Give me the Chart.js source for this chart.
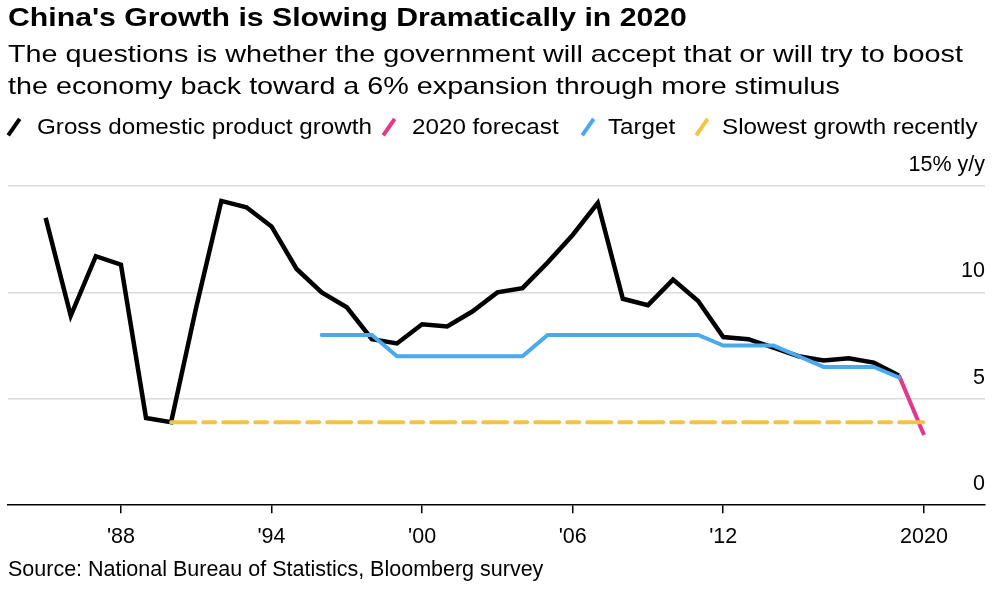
<!DOCTYPE html>
<html>
<head>
<meta charset="utf-8">
<script src="https://cdn.jsdelivr.net/npm/chart.js@4.4.1/dist/chart.umd.min.js"></script>
<style>
  body { margin: 0; background: #fff; font-family: "Liberation Sans", Arial, sans-serif; color: #000; }
  #wrap { position: relative; width: 1008px; height: 590px; overflow: hidden; }
  #chart { position: absolute; left: 0; top: 0; }
  .txt { position: absolute; left: 8px; white-space: nowrap; transform-origin: 0 0; }
  #title { top: 3px; font-size: 25.5px; font-weight: bold; transform: scaleX(1.185); }
  #subtitle { top: 38px; font-size: 24px; line-height: 32px; transform: scaleX(1.197); }
  .leg { position: absolute; top: 114px; font-size: 22px; white-space: nowrap; transform-origin: 0 0; transform: scaleX(1.1); }
  .slash { position: absolute; top: 117px; width: 3.5px; height: 20px; transform: rotate(35deg); }
  #source { top: 557px; font-size: 21.5px; }
</style>
</head>
<body>
<div id="wrap">
  <canvas id="chart" width="1008" height="590"></canvas>
  <div class="txt" id="title">China's Growth is Slowing Dramatically in 2020</div>
  <div class="txt" id="subtitle">The questions is whether the government will accept that or will try to boost<br>the economy back toward a 6% expansion through more stimulus</div>
  <div id="legend"></div>
  <div class="txt" id="source">Source: National Bureau of Statistics, Bloomberg survey</div>
</div>
<script>
// data
const years = [1985, 1986, 1987, 1988, 1989, 1990, 1991, 1992, 1993, 1994, 1995, 1996,
  1997, 1998, 1999, 2000, 2001, 2002, 2003, 2004, 2005, 2006, 2007, 2008, 2009, 2010,
  2011, 2012, 2013, 2014, 2015, 2016, 2017, 2018, 2019];
const gdp = [13.5, 8.9, 11.7, 11.3, 4.1, 3.9, 9.3, 14.3, 14.0, 13.1, 11.1, 10.0,
  9.3, 7.8, 7.6, 8.5, 8.4, 9.1, 10.0, 10.2, 11.4, 12.7, 14.2, 9.7, 9.4, 10.6,
  9.6, 7.9, 7.8, 7.4, 7.0, 6.8, 6.9, 6.7, 6.1];
const forecastYears = [2019, 2020];
const forecast = [6.1, 3.3];
const targetYears = [1996, 1997, 1998, 1999, 2000, 2001, 2002, 2003, 2004, 2005, 2006, 2007,
  2008, 2009, 2010, 2011, 2012, 2013, 2014, 2015, 2016, 2017, 2018, 2019];
const target = [8, 8, 8, 7, 7, 7, 7, 7, 7, 8, 8, 8, 8, 8, 8, 8, 7.5, 7.5, 7.5, 7, 6.5, 6.5, 6.5, 6];
const slowestYears = [1990, 2020];
const slowest = [3.9, 3.9];
const xTicks = [1988, 1994, 2000, 2006, 2012, 2020];
const xTickLabels = ["'88", "'94", "'00", "'06", "'12", "2020"];
const yTicks = [0, 5, 10, 15];

const seriesNames = ["Gross domestic product growth", "2020 forecast", "Target", "Slowest growth recently"];
const colors = ["#000000", "#e2388c", "#4aa9ef", "#f5c344"];

function pts(xs, ys) {
  return xs.map((x, i) => ({ x: x, y: ys[i] }));
}

// legend, laid out like the original
const legTextLeft = [37, 412, 608, 722];
const legSlashLeft = [12, 387, 586, 700];
let legHtml = "";
seriesNames.forEach((n, i) => {
  legHtml += '<div class="slash" style="left:' + legSlashLeft[i] + 'px;background:' + colors[i] + '"></div>';
  legHtml += '<div class="leg" style="left:' + legTextLeft[i] + 'px">' + n + '</div>';
});
document.getElementById("legend").innerHTML = legHtml;

const font = { family: "'Liberation Sans', Arial, sans-serif", size: 21.5 };

const ctx = document.getElementById("chart");
const myChart = new Chart(ctx, {
  type: "line",
  data: {
    datasets: [
      { label: seriesNames[3], data: pts(slowestYears, slowest), borderColor: colors[3],
        borderWidth: 4, borderDash: [24, 8, 12, 8], borderCapStyle: "round" },
      { label: seriesNames[2], data: pts(targetYears, target), borderColor: colors[2],
        borderWidth: 4, borderCapStyle: "round" },
      { label: seriesNames[1], data: pts(forecastYears, forecast), borderColor: colors[1],
        borderWidth: 4 },
      { label: seriesNames[0], data: pts(years, gdp), borderColor: colors[0],
        borderWidth: 4.5 },
    ],
  },
  options: {
    responsive: false,
    animation: false,
    layout: { padding: { left: 8, right: 23, top: 186, bottom: 29 } },
    elements: { point: { radius: 0 }, line: { tension: 0, borderJoinStyle: "miter" } },
    plugins: { legend: { display: false }, tooltip: { enabled: false } },
    scales: {
      x: {
        type: "linear",
        min: 1983.5,
        max: 2022.43,
        afterBuildTicks: (axis) => { axis.ticks = xTicks.map((v) => ({ value: v })); },
        grid: { drawOnChartArea: false, drawTicks: true, tickLength: 8, color: "#000", lineWidth: 1.5 },
        border: { color: "#000", width: 1.5 },
        ticks: {
          padding: 11,
          color: "#000",
          font: font,
          callback: (v) => xTickLabels[xTicks.indexOf(v)],
        },
      },
      y: {
        position: "right",
        min: 0,
        max: 15,
        afterBuildTicks: (axis) => { axis.ticks = yTicks.map((v) => ({ value: v })); },
        border: { display: false },
        grid: { drawTicks: false, color: (c) => (c.tick.value === 0 ? "rgba(0,0,0,0)" : "#dcdcdc"), lineWidth: 1.5 },
        ticks: {
          mirror: true,
          padding: 0,
          labelOffset: -21,
          color: "#000",
          font: font,
          callback: (v) => (v === 15 ? "15% y/y" : v),
        },
      },
    },
  },
});
</script>
</body>
</html>
